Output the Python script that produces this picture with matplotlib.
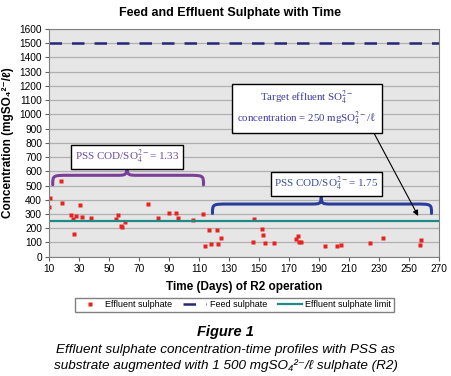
import numpy as np
import matplotlib.pyplot as plt
from matplotlib.path import Path
from matplotlib.patches import PathPatch

plt.rcParams['font.family'] = ['Liberation Sans', 'DejaVu Sans']
plt.rcParams['mathtext.fontset'] = 'stix'

# Effluent sulphate readings (day, mg/l)
days = [10, 11, 18, 19, 25, 26, 27, 28, 31, 32, 38, 55, 56, 58, 59, 61, 76, 83,
        90, 95, 96, 106, 113, 114, 117, 118, 122, 123, 125, 146, 147, 152, 153,
        154, 160, 175, 176, 177, 178, 194, 202, 205, 224, 233, 257, 258]
effluent = [350, 410, 530, 380, 295, 262, 160, 285, 365, 280, 275, 268, 290, 215,
            207, 245, 370, 272, 305, 308, 273, 255, 303, 77, 187, 87, 187, 87, 128,
            100, 262, 192, 150, 98, 98, 124, 145, 103, 101, 77, 75, 84, 98, 128,
            80, 117]
feed_level = 1500
limit_level = 250
xticks = list(range(10, 271, 20))
yticks = list(range(0, 1601, 100))

fig = plt.figure(figsize=(4.51, 3.76), dpi=100)
ax = fig.add_axes([0.1086, 0.3173, 0.8648, 0.6056])
ax.set_facecolor('#e6e6e6')
ax.set_xlim(10, 270)
ax.set_ylim(0, 1600)
ax.set_xticks(xticks)
ax.set_yticks(yticks)
ax.grid(axis='y', color='#b0b0b0', lw=0.9)
ax.set_axisbelow(True)
ax.tick_params(labelsize=7.3, length=3, color='#606060', pad=2)
for s in ax.spines.values():
    s.set_color('#808080')

ax.plot(days, effluent, 's', color='#e8231f', ms=3, mec='none', label='Effluent sulphate')
ax.axhline(feed_level, color='#27277a', lw=1.8, dashes=(5, 4), label='Feed sulphate')
ax.axhline(limit_level, color='#1f8a86', lw=1.6, label='Effluent sulphate limit')


def brace(x0, x1, xtip, yend, ymid, ytip, color):
    dx = 11
    dt = 7
    verts = [(x0, yend), (x0, ymid), (x0, ymid), (x0 + dx, ymid),
             (xtip - dt, ymid),
             (xtip - 1, ymid), (xtip, ymid), (xtip, ytip),
             (xtip, ymid), (xtip + 1, ymid), (xtip + dt, ymid),
             (x1 - dx, ymid),
             (x1, ymid), (x1, ymid), (x1, yend)]
    codes = [Path.MOVETO, Path.CURVE4, Path.CURVE4, Path.CURVE4,
             Path.LINETO,
             Path.CURVE4, Path.CURVE4, Path.CURVE4,
             Path.CURVE4, Path.CURVE4, Path.CURVE4,
             Path.LINETO,
             Path.CURVE4, Path.CURVE4, Path.CURVE4]
    ax.add_patch(PathPatch(Path(verts, codes), fc='none', ec=color, lw=2.2,
                           capstyle='round', joinstyle='round', zorder=3))


brace(12.5, 113, 62, 505, 572, 636, '#7b3f98')
brace(119, 265, 191.5, 304, 370, 421, '#2a3c9a')

box = dict(boxstyle='square,pad=0.3', fc='white', ec='black', lw=1)
serif = ['Liberation Serif', 'DejaVu Serif']
ax.text(62, 700, r'PSS COD/SO$_4^{2-}$= 1.33', ha='center', va='center',
        fontsize=8, color='#6a4a9c', family=serif, bbox=box, zorder=4)
ax.text(195, 510, r'PSS COD/SO$_4^{2-}$= 1.75', ha='center', va='center',
        fontsize=8, color='#3a4aa0', family=serif, bbox=box, zorder=4)
ax.annotate('', xy=(257, 269), xytext=(225, 901),
            arrowprops=dict(arrowstyle='-|>', color='black', lw=0.8,
                            mutation_scale=8), zorder=4)
ax.text(182, 1043, 'Target effluent SO$_4^{2-}$\nconcentration = 250 mgSO$_4^{2-}$/ℓ',
        ha='center', va='center', fontsize=7.8, color='#3a3a9a', family=serif,
        linespacing=1.2, bbox=dict(boxstyle='square,pad=0.5', fc='white', ec='black', lw=1),
        zorder=5)

ax.set_xlabel('Time (Days) of R2 operation', fontsize=8.5, fontweight='bold', labelpad=5)
ax.set_ylabel('Concentration (mgSO₄²⁻/ℓ)', fontsize=8.5, fontweight='bold', labelpad=4)
fig.text(0.51, 0.965, 'Feed and Effluent Sulphate with Time', ha='center', va='center',
         fontsize=9, fontweight='bold')

fig.legend(loc='center', bbox_to_anchor=(0.52, 0.189), ncol=3, fontsize=6.5,
           frameon=True, fancybox=False, edgecolor='#606060', borderpad=0.3,
           handlelength=2.6, columnspacing=1.2, handletextpad=0.4)

fig.text(0.5, 0.117, 'Figure 1', ha='center', va='center', fontsize=10.5,
         fontweight='bold', style='italic')
fig.text(0.5, 0.069, 'Effluent sulphate concentration-time profiles with PSS as',
         ha='center', va='center', fontsize=9.7, style='italic')
fig.text(0.5, 0.027, 'substrate augmented with 1 500 mgSO₄²⁻/ℓ sulphate (R2)',
         ha='center', va='center', fontsize=9.7, style='italic')

fig.savefig('out.png', dpi=100)
